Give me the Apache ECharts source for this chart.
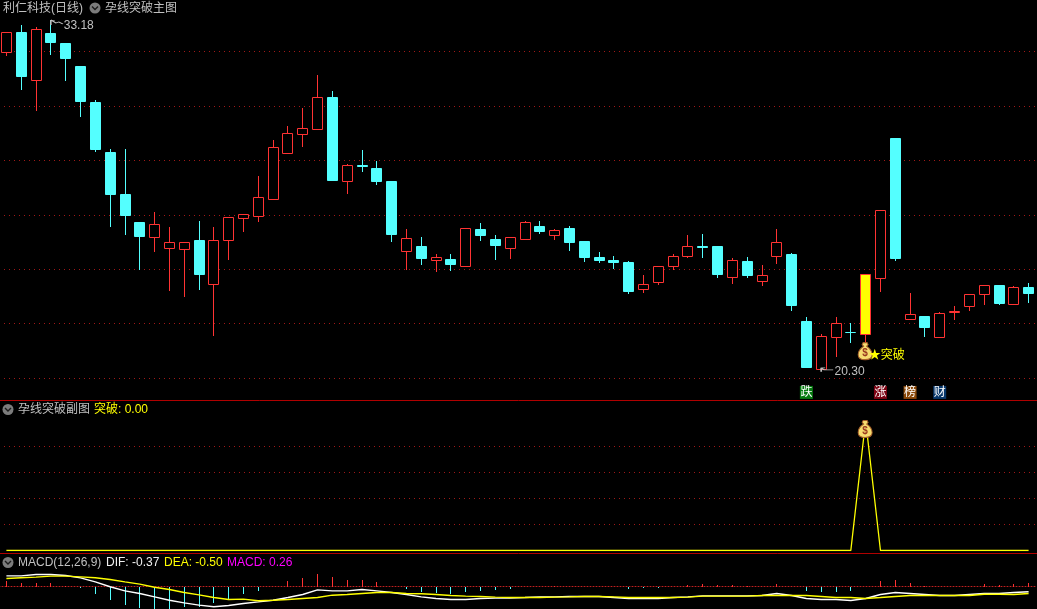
<!DOCTYPE html>
<html><head><meta charset="utf-8">
<style>html,body{margin:0;padding:0;background:#000}#c{width:1037px;height:609px}</style>
<script src="https://cdn.jsdelivr.net/npm/echarts@6/dist/echarts.min.js"></script>
</head><body><div id="c"></div>
<script>
const opens=[32.00,32.72,30.97,32.68,32.32,31.47,30.15,28.31,26.76,25.73,25.19,24.79,24.76,25.07,23.47,25.09,25.90,25.97,26.57,28.29,28.98,29.17,30.33,27.26,27.82,27.72,27.25,24.68,24.85,24.35,24.38,24.13,25.48,25.11,24.79,25.12,25.59,25.27,25.51,25.04,24.45,24.34,24.26,23.28,23.54,24.13,24.50,24.85,24.85,23.72,24.30,23.58,24.50,24.56,22.10,20.34,21.52,21.70,21.62,23.69,28.82,22.18,22.28,21.52,22.44,22.66,23.07,23.42,22.73,23.34];
const closes=[32.71,31.10,32.82,32.35,31.77,30.18,28.42,26.76,25.99,25.22,25.65,24.99,24.99,23.82,25.06,25.91,26.02,26.65,28.48,29.00,29.18,30.32,27.28,27.82,27.80,27.25,25.29,25.13,24.41,24.45,24.19,25.50,25.26,24.89,25.17,25.73,25.41,25.43,25.00,24.45,24.34,24.26,23.20,23.45,24.11,24.47,24.84,24.83,23.82,24.33,23.79,23.78,24.99,22.69,20.41,21.53,22.01,21.68,23.82,26.17,24.41,22.34,21.87,22.38,22.45,23.08,23.41,22.76,23.33,23.12];
const lows=[31.89,30.63,29.86,31.91,30.96,29.63,28.35,25.59,25.29,24.01,24.67,23.24,23.02,23.27,21.58,24.38,25.41,25.77,26.57,28.29,28.53,29.17,27.28,26.80,27.61,27.13,25.04,24.01,24.19,23.93,23.97,24.13,25.07,24.38,24.41,25.12,25.33,25.11,24.71,24.30,24.26,24.04,23.12,23.16,23.46,24.01,24.45,24.45,23.71,23.49,23.71,23.42,24.23,22.50,20.41,20.30,20.81,21.33,21.30,23.20,24.33,22.18,21.54,21.52,22.17,22.50,22.72,22.72,22.73,22.80];
const highs=[32.71,32.98,32.89,33.18,32.32,31.47,30.22,28.42,28.42,25.73,26.10,25.55,24.99,25.77,25.55,25.91,26.02,27.43,28.75,29.27,29.93,31.14,30.55,27.87,28.38,27.98,27.25,25.48,25.18,24.56,24.56,25.50,25.70,25.26,25.17,25.77,25.77,25.48,25.59,25.04,24.63,24.49,24.30,23.79,24.11,24.56,25.26,25.29,24.85,24.41,24.45,24.15,25.48,24.60,22.24,21.62,22.24,22.02,23.82,26.17,28.82,23.12,22.28,22.42,22.65,23.08,23.41,23.42,23.38,23.49];
const breakout=[0,0,0,0,0,0,0,0,0,0,0,0,0,0,0,0,0,0,0,0,0,0,0,0,0,0,0,0,0,0,0,0,0,0,0,0,0,0,0,0,0,0,0,0,0,0,0,0,0,0,0,0,0,0,0,0,0,0,1,0,0,0,0,0,0,0,0,0,0,0];
const dif=[.76,.76,.86,.86,.79,.62,.33,-.02,-.31,-.50,-.74,-.98,-1.17,-1.33,-1.45,-1.36,-1.21,-1.10,-.98,-.79,-.57,-.24,-.31,-.31,-.21,-.31,-.43,-.57,-.74,-.86,-.93,-.93,-.86,-.83,-.83,-.79,-.74,-.74,-.71,-.71,-.71,-.79,-.86,-.86,-.86,-.79,-.74,-.67,-.67,-.67,-.67,-.64,-.50,-.64,-.86,-.93,-.93,-1.00,-.86,-.57,-.43,-.50,-.57,-.64,-.64,-.57,-.50,-.50,-.43,-.37];
const dea=[.57,.62,.67,.74,.74,.69,.62,.50,.33,.17,-.05,-.21,-.43,-.60,-.79,-.93,-.90,-1.02,-.98,-.93,-.86,-.79,-.62,-.57,-.50,-.43,-.43,-.50,-.52,-.57,-.64,-.69,-.71,-.76,-.79,-.79,-.79,-.76,-.74,-.71,-.71,-.74,-.79,-.79,-.79,-.79,-.76,-.69,-.69,-.69,-.69,-.64,-.64,-.64,-.64,-.71,-.79,-.79,-.86,-.79,-.71,-.64,-.64,-.64,-.64,-.64,-.55,-.55,-.57,-.50];
const macd=[.36,.24,.24,.24,.07,-.10,-.55,-.95,-1.33,-1.52,-1.60,-1.60,-1.45,-1.45,-1.20,-.86,-.57,-.31,0,.36,.62,.88,.67,.45,.45,.31,0,-.19,-.40,-.48,-.55,-.38,-.31,-.26,-.19,0,0,.02,0,0,0,0,-.19,-.12,-.12,0,.1,.17,.1,.1,.07,0,.17,0,-.33,-.38,-.38,-.33,0,.38,.45,.24,.02,0,0,0,.17,.1,.17,.26];
const categories=opens.map((_,i)=>String(i+1));
const signalIndex=58;
const badges=[{i:54,t:'跌',c:'#067a10'},{i:59,t:'涨',c:'#7c0414'},{i:61,t:'榜',c:'#8a4808'},{i:63,t:'财',c:'#08386c'}];
const panelTexts=[
 {x:3,y:8.5,t:'利仁科技(日线)',c:'#c0c0c0'},{x:105,y:8.5,t:'孕线突破主图',c:'#c0c0c0'},
 {x:18,y:410,t:'孕线突破副图',c:'#c0c0c0'},{x:94,y:410,t:'突破: 0.00',c:'#ffff00'},
 {x:18,y:562.5,t:'MACD(12,26,9)',c:'#c0c0c0'},{x:106,y:562.5,t:'DIF: -0.37',c:'#f0f0f0'},{x:164,y:562.5,t:'DEA: -0.50',c:'#ffff00'},{x:227,y:562.5,t:'MACD: 0.26',c:'#ff00ff'}];
const icons=[[95,8],[8,409.5],[8,562.5]];
const separators=[400.5,553.5];

const RED='#ff3333',CYAN='#54ffff',DOT='#a01818',GREY='#c0c0c0';
const FONT='"Liberation Sans","Noto Sans CJK SC",sans-serif';
const BAG='path://M5 0 L9 0 L10 2 L8.5 3.6 C12 6 14 9 14 12 C14 15.5 11 17 7 17 C3 17 0 15.5 0 12 C0 9 2 6 5.5 3.6 L4 2 Z';
const bag=(coord)=>({coord,symbol:BAG,symbolSize:[14,17],symbolOffset:[-0.5,8.5],
  itemStyle:{color:'#f6dc70',borderColor:'#a8602a',borderWidth:1},
  label:{show:true,position:'inside',formatter:'$',color:'#9a3a20',fontSize:10,fontWeight:'bold',fontFamily:FONT,offset:[0,2]}});

const markers=[
 {coord:[3,33.18],symbol:'path://M0 0 L0 5 M0 0 L4 1 M0 0 L5 3 L8 2 L12 4',symbolSize:[12,5],symbolOffset:[6,3],
  itemStyle:{color:'none',borderColor:GREY,borderWidth:1},
  label:{show:true,position:'right',distance:2,formatter:'33.18',color:GREY,fontSize:12,fontFamily:FONT,offset:[-5,3]}},
 {coord:[55,20.30],symbol:'path://M0 0 L0 4 M0 0 L4 0 M0 0 L3 2 L12 2',symbolSize:[12,4],symbolOffset:[6,0],
  itemStyle:{color:'none',borderColor:GREY,borderWidth:1},
  label:{show:true,position:'right',distance:2,formatter:'20.30',color:GREY,fontSize:12,fontFamily:FONT,offset:[-5,2]}},
 bag([signalIndex,21.30]),
 {coord:[signalIndex,20.88],symbol:'circle',symbolSize:0,
  label:{show:true,position:'right',distance:3,formatter:'★突破',color:'#ffff00',fontSize:12,fontFamily:FONT,offset:[0,2]}}
].concat(badges.map(b=>({coord:[b.i,19.47],symbol:'rect',symbolSize:13,itemStyle:{color:b.c},
  label:{show:true,position:'inside',formatter:b.t,color:'#fff',fontSize:12,fontFamily:FONT}})));

const hideAxis={axisLine:{show:false},axisTick:{show:false},axisLabel:{show:false}};
const dotted={show:true,lineStyle:{color:DOT,width:1,type:[1,4]}};
const xAxis=i=>({type:'category',gridIndex:i,data:categories,boundaryGap:true,splitLine:{show:false},...hideAxis});

const graphic=[];
separators.forEach(y=>graphic.push({type:'line',silent:true,shape:{x1:0,y1:y,x2:1037,y2:y},style:{stroke:'#b00000',lineWidth:1},z:50}));
icons.forEach(([x,y])=>{
  graphic.push({type:'circle',silent:true,shape:{cx:x,cy:y,r:5.5},style:{fill:'#7c7c7c'},z:50});
  graphic.push({type:'polyline',silent:true,shape:{points:[[x-3,y-1.5],[x,y+1.5],[x+3,y-1.5]]},style:{stroke:'#1c1c1c',lineWidth:1.4,fill:'none'},z:51});
});
panelTexts.forEach(p=>graphic.push({type:'text',silent:true,x:p.x,y:p.y,z:50,
  style:{text:p.t,fill:p.c,fontSize:12,fontFamily:FONT,verticalAlign:'middle',align:'left'}}));

const snapX=x=>Math.floor(x+0.1)+0.5;
const renderCandle=(params,api)=>{
  const i=api.value(0),o=api.value(1),c=api.value(2),l=api.value(3),h=api.value(4);
  const up=c>=o, col=up?RED:CYAN;
  const x=snapX(api.coord([i,o])[0]);
  const yTop=Math.round(api.coord([i,Math.max(o,c)])[1]);
  const yBot=Math.round(api.coord([i,Math.min(o,c)])[1]);
  const yH=Math.round(api.coord([i,h])[1]), yL=Math.round(api.coord([i,l])[1]);
  const fill=i===signalIndex?'#ffff00':(up?'#000':CYAN);
  return {type:'group',children:[
    {type:'line',shape:{x1:x,y1:yH,x2:x,y2:yL+1},style:{stroke:col,lineWidth:1}},
    {type:'rect',shape:{x:x-5,y:yTop+0.5,width:10,height:yBot-yTop},style:{fill,stroke:col,lineWidth:1}}
  ]};
};
const renderMacd=(params,api)=>{
  const v=api.value(1);
  const a=api.coord([api.value(0),0]),b=api.coord([api.value(0),v]);
  const x=snapX(a[0]);
  return {type:'line',shape:{x1:x,y1:Math.round(a[1]),x2:x,y2:Math.round(b[1])},style:{stroke:v>=0?RED:CYAN,lineWidth:1}};
};

const chart=echarts.init(document.getElementById('c'),null,{renderer:'canvas'});
chart.setOption({
  backgroundColor:'#000',animation:false,
  grid:[
   {left:-1,right:1,top:-2.8,height:435.2,outerBoundsMode:'none'},
   {left:-1,right:1,top:420.5,height:130,outerBoundsMode:'none'},
   {left:-1,right:1,top:569.7,height:39.2,outerBoundsMode:'none'}],
  xAxis:[xAxis(0),xAxis(1),{...xAxis(2),axisLine:{show:true,onZero:true,lineStyle:{color:'#c02020',width:1,type:[1,2]}}}],
  yAxis:[
   {type:'value',gridIndex:0,min:18,max:34,interval:2,...hideAxis,splitLine:{...dotted,showMinLine:false,showMaxLine:false}},
   {type:'value',gridIndex:1,min:0,max:1,interval:0.2,...hideAxis,splitLine:{...dotted,showMinLine:false,showMaxLine:false}},
   {type:'value',gridIndex:2,min:-1.6,max:1.2,...hideAxis,splitLine:{show:false}}],
  graphic,
  series:[
   {type:'custom',name:'K',xAxisIndex:0,yAxisIndex:0,coordinateSystem:'cartesian2d',
    data:opens.map((o,i)=>[i,o,closes[i],lows[i],highs[i]]),encode:{x:0,y:[1,2,3,4]},renderItem:renderCandle,
    markPoint:{silent:true,animation:false,data:markers}},
   {type:'line',xAxisIndex:1,yAxisIndex:1,data:breakout,showSymbol:false,lineStyle:{color:'#ffff00',width:1.3},
    markPoint:{silent:true,animation:false,data:[bag([signalIndex,1])]}},
   {type:'custom',name:'MACD',xAxisIndex:2,yAxisIndex:2,coordinateSystem:'cartesian2d',data:macd.map((v,i)=>[i,v]),encode:{x:0,y:1},renderItem:renderMacd},
   {type:'line',xAxisIndex:2,yAxisIndex:2,data:dif,showSymbol:false,lineStyle:{color:'#ffffff',width:1.4}},
   {type:'line',xAxisIndex:2,yAxisIndex:2,data:dea,showSymbol:false,lineStyle:{color:'#ffff00',width:1.4}}
  ]
});
</script></body></html>
